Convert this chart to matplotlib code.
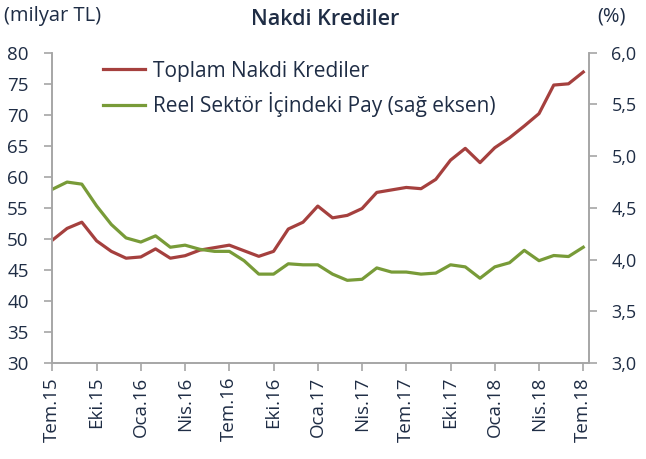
import numpy as np
import matplotlib
matplotlib.use("Agg")
import matplotlib.pyplot as plt
from matplotlib.ticker import FuncFormatter

plt.rcParams['font.family'] = ['Open Sans', 'DejaVu Sans']

# veriler (Tem.15 - Tem.18, aylik)
toplam_kredi = [49.8, 51.7, 52.7, 49.7, 48.0, 46.9, 47.1, 48.4, 46.9, 47.3,
                48.2, 48.6, 49.0, 48.1, 47.2, 48.0, 51.6, 52.7, 55.3, 53.4,
                53.8, 54.9, 57.5, 57.9, 58.3, 58.1, 59.6, 62.7, 64.6, 62.3,
                64.7, 66.3, 68.2, 70.2, 74.8, 75.0, 76.9]
reel_pay = [4.68, 4.75, 4.73, 4.52, 4.34, 4.21, 4.17, 4.23, 4.12, 4.14,
            4.10, 4.08, 4.08, 3.99, 3.86, 3.86, 3.96, 3.95, 3.95, 3.86,
            3.80, 3.81, 3.92, 3.88, 3.88, 3.86, 3.87, 3.95, 3.93, 3.82,
            3.93, 3.97, 4.09, 3.99, 4.04, 4.03, 4.12]
etiketler = ['Tem.15', 'Eki.15', 'Oca.16', 'Nis.16', 'Tem.16', 'Eki.16', 'Oca.17',
             'Nis.17', 'Tem.17', 'Eki.17', 'Oca.18', 'Nis.18', 'Tem.18']

kirmizi = '#A5403E'
yesil = '#789B38'
yazi = '#1F2D45'
gri = '#A6A6A6'

x = np.arange(len(toplam_kredi))

fig = plt.figure(figsize=(6.46, 4.59), dpi=100)
ax = fig.add_axes([0.081, 0.209, 0.831, 0.676])
ax2 = ax.twinx()

l1, = ax.plot(x, toplam_kredi, color=kirmizi, lw=2.3, label='Toplam Nakdi Krediler')
l2, = ax2.plot(x, reel_pay, color=yesil, lw=2.3, label='Reel Sektör İçindeki Pay (sağ eksen)')

ax.set_xlim(0, 36.4)
ax.set_ylim(30, 80)
ax.set_yticks(np.arange(30, 81, 5))
ax2.set_ylim(3.0, 6.0)
ax2.set_yticks(np.arange(3.0, 6.01, 0.5))
ax2.yaxis.set_major_formatter(FuncFormatter(lambda v, p: f'{v:.1f}'.replace('.', ',')))

ax.set_xticks(x[::3])
ax.set_xticklabels(etiketler, rotation=90)

for a in (ax, ax2):
    a.spines['top'].set_visible(False)
    for s in ('left', 'right', 'bottom'):
        a.spines[s].set_color(gri)
        a.spines[s].set_linewidth(1.2)
    a.tick_params(colors=gri, labelcolor=yazi, labelsize=13.5, length=6, width=1.2)
ax.tick_params(axis='y', pad=11)
ax2.tick_params(axis='y', labelsize=13, pad=10)
ax.tick_params(axis='x', pad=4)

ax.legend(handles=[l1, l2], loc='upper left', bbox_to_anchor=(0.06, 1.035),
          frameon=False, fontsize=15, labelcolor=yazi, handlelength=2.0,
          handletextpad=0.4, labelspacing=0.5)

fig.text(0.503, 0.957, 'Nakdi Krediler', ha='center', va='center', fontsize=15.5,
         fontweight='semibold', color=yazi)
fig.text(0.006, 0.965, '(milyar TL)', ha='left', va='center', fontsize=14.5, color=yazi)
fig.text(0.968, 0.965, '(%)', ha='right', va='center', fontsize=14.5, color=yazi)

fig.savefig('out.png', dpi=100)
